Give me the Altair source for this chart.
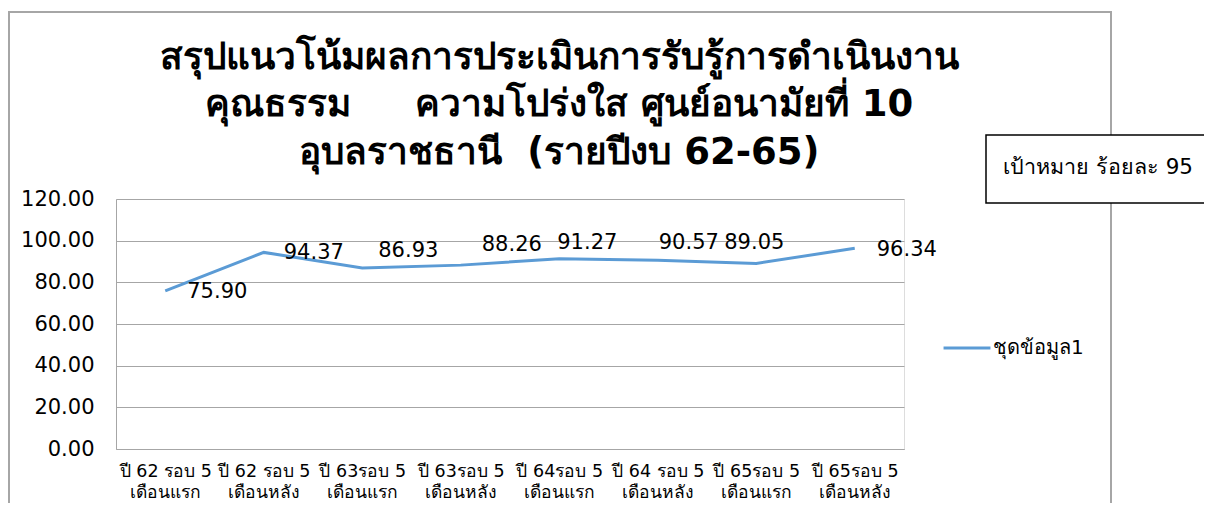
import altair as alt
import pandas as pd

categories = [
    "ปี 62 รอบ 5\nเดือนแรก",
    "ปี 62 รอบ 5\nเดือนหลัง",
    "ปี 63รอบ 5\nเดือนแรก",
    "ปี 63รอบ 5\nเดือนหลัง",
    "ปี 64รอบ 5\nเดือนแรก",
    "ปี 64 รอบ 5\nเดือนหลัง",
    "ปี 65รอบ 5\nเดือนแรก",
    "ปี 65รอบ 5\nเดือนหลัง",
]
values = [75.90, 94.37, 86.93, 88.26, 91.27, 90.57, 89.05, 96.34]
series_name = "ชุดข้อมูล1"
y_ticks = [0, 20, 40, 60, 80, 100, 120]
title_lines = [
    "สรุปแนวโน้มผลการประเมินการรับรู้การดำเนินงาน",
    "คุณธรรม\u00a0\u00a0\u00a0\u00a0 ความโปร่งใส ศูนย์อนามัยที่ 10",
    "อุบลราชธานี\u00a0 (รายปีงบ 62-65)",
]
target_text = "เป้าหมาย ร้อยละ 95"

# per-label pixel nudges (style, not data)
label_dx = [22, 20, 16, 21, -2, 1, -32, 22]
label_dy = [1, 1, -17, -20, -16, -17, -20, 2]
# title line baselines, pixels relative to the plot top (style)
title_y = [-130, -83, -35]

df = pd.DataFrame({"cat": categories, "value": values, "series": series_name,
                   "idx": list(range(len(values)))})

FONT = "DejaVu Sans"
W, H = 788, 250

x_enc = alt.X("cat:N", sort=categories, title=None,
              scale=alt.Scale(paddingInner=0, paddingOuter=0),
              axis=alt.Axis(labelAngle=0, labelExpr="split(datum.label, '\\n')",
                            labelFontSize=17.5, labelFont=FONT, labelColor="#000000",
                            labelLineHeight=21, labelPadding=13, ticks=False,
                            domainColor="#a6a6a6", domainWidth=1, labelLimit=200))
y_enc = alt.Y("value:Q", title=None,
              scale=alt.Scale(domain=[0, 120], nice=False, zero=True),
              axis=alt.Axis(values=y_ticks, format=".2f", ticks=False,
                            labelFontSize=21, labelFont=FONT, labelColor="#000000",
                            labelPadding=22, gridColor="#a6a6a6", gridWidth=1,
                            domainColor="#a6a6a6", domainWidth=1))

frame = alt.Chart(df).mark_rect(fill="transparent", stroke="#a6a6a6", strokeWidth=1.5).encode(
    x=alt.value(-107), x2=alt.value(995), y=alt.value(-187), y2=alt.value(330)
)

line = alt.Chart(df).mark_line(strokeWidth=3, color="#5b9bd5").encode(
    x=x_enc, y=y_enc,
    color=alt.Color("series:N", scale=alt.Scale(range=["#5b9bd5"]),
                    legend=alt.Legend(title=None, orient="none", legendX=826, legendY=124,
                                      symbolType="stroke", symbolSize=2200,
                                      symbolStrokeWidth=3, labelFontSize=20,
                                      labelFont=FONT, labelColor="#000000",
                                      labelOffset=1)),
)

labels = []
for i in range(len(values)):
    labels.append(
        alt.Chart(df).transform_filter(alt.datum.idx == i)
        .mark_text(align="left", baseline="middle", fontSize=21, font=FONT,
                   color="#000000", dx=label_dx[i], dy=label_dy[i])
        .encode(x=alt.X("cat:N", sort=categories), y=alt.Y("value:Q"),
                text=alt.Text("value:Q", format=".2f"))
    )

titles = []
for i, t in enumerate(title_lines):
    titles.append(
        alt.Chart(df).transform_filter(alt.datum.idx == 0)
        .mark_text(align="center", baseline="alphabetic", fontSize=37, fontWeight="bold",
                   font=FONT, color="#000000", text=t)
        .encode(x=alt.value(443), y=alt.value(title_y[i]))
    )

box = alt.Chart(df).transform_filter(alt.datum.idx == 0).mark_rect(
    fill="#ffffff", stroke="#000000", strokeWidth=1.5).encode(
    x=alt.value(870), x2=alt.value(1110), y=alt.value(-64), y2=alt.value(4)
)
box_text = alt.Chart(df).transform_filter(alt.datum.idx == 0).mark_text(
    align="left", baseline="middle", fontSize=21.5, fontWeight="normal",
    font=FONT, color="#000000", text=target_text).encode(
    x=alt.value(887), y=alt.value(-31)
)

chart = alt.layer(frame, line, *labels, *titles, box, box_text).properties(
    width=W, height=H,
    autosize=alt.AutoSizeParams(type="none"),
    padding={"left": 108, "top": 191, "right": 300, "bottom": 54},
).configure_view(stroke=None).configure(background="#ffffff")

chart.save("out.html", embed_options={"renderer": "svg", "actions": False})
